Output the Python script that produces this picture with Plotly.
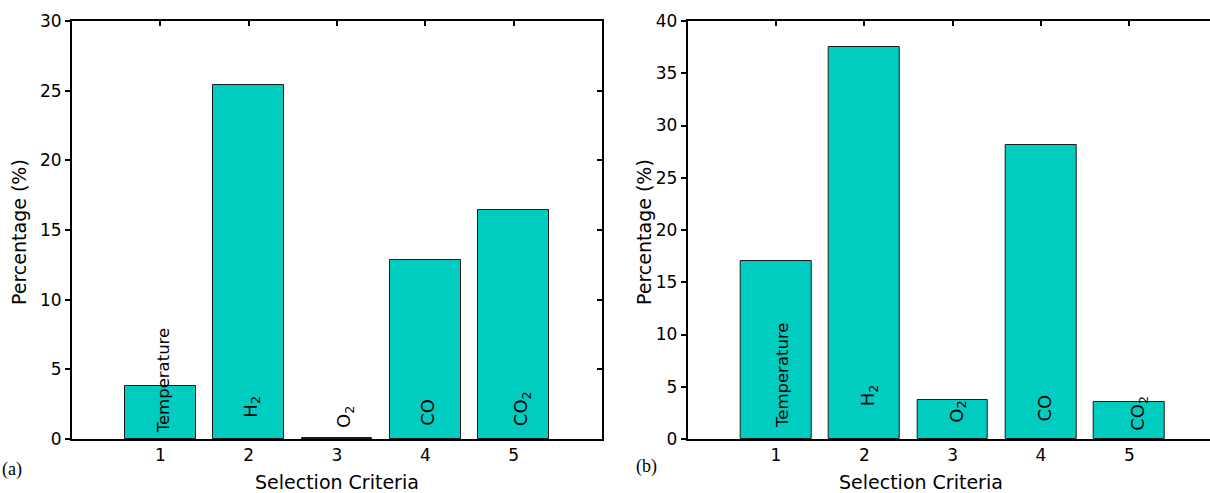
import plotly.graph_objects as go

# Selection criteria shared by both panels
categories = [1, 2, 3, 4, 5]
criteria_labels = ["Temperature", "H<sub>2</sub>", "O<sub>2</sub>", "CO", "CO<sub>2</sub>"]

# Percentage of selections per criterion
pct_a = [3.82, 25.42, 0.08, 12.86, 16.40]
pct_b = [17.0, 37.5, 3.78, 28.1, 3.52]

yticks_a = [0, 5, 10, 15, 20, 25, 30]
yticks_b = [0, 5, 10, 15, 20, 25, 30, 35, 40]

# In-bar label offsets (pixels): horizontal shift from bar centre, height above baseline
label_dx_a = [3, 3, 8, 2, 8]
label_dy_a = [4, 19, 9, 11, 11]
label_dx_b = [6, 5, 5, 3, 9]
label_dy_b = [9, 31, 14, 15, 6]
label_size = [16.5, 18, 18, 18, 18]

W, H = 1210, 493
M_T, M_B = 21, 54
PLOT_H = H - M_T - M_B

BAR_COLOR = "#00CCC0"
EDGE_COLOR = "#1a1a1a"
FONT = "DejaVu Sans"


def px_x(p):
    return p / W


def px_y(p):
    return (H - M_B - p) / PLOT_H


fig = go.Figure()

fig.add_trace(go.Bar(x=categories, y=pct_a, width=0.8, xaxis="x", yaxis="y",
                     marker=dict(color=BAR_COLOR, line=dict(color=EDGE_COLOR, width=1)),
                     showlegend=False, hoverinfo="x+y"))
fig.add_trace(go.Bar(x=categories, y=pct_b, width=0.8, xaxis="x2", yaxis="y2",
                     marker=dict(color=BAR_COLOR, line=dict(color=EDGE_COLOR, width=1)),
                     showlegend=False, hoverinfo="x+y"))

dom_a = [px_x(72), px_x(602)]
dom_b = [px_x(687.7), 1.0]
xr_a = [0, 6]
xr_b = [0, (W - 687.7) / ((602 - 72) / 6)]

tickfont = dict(family=FONT, size=17, color="black")
line_kw = dict(showline=True, linecolor="black", linewidth=2, zeroline=False,
               showgrid=False)

fig.update_layout(
    width=W, height=H,
    margin=dict(l=0, r=0, t=M_T, b=M_B),
    paper_bgcolor="white", plot_bgcolor="white",
    bargap=0,
    xaxis=dict(domain=dom_a, range=xr_a, anchor="y", tickvals=categories,
               ticks="", mirror=True, tickfont=tickfont, fixedrange=True, **line_kw),
    xaxis3=dict(overlaying="x", side="top", anchor="y", range=xr_a, tickvals=categories,
                ticks="inside", ticklen=5, tickwidth=1.5, tickcolor="black",
                showticklabels=False, showline=False, showgrid=False, zeroline=False),
    yaxis=dict(domain=[0, 1], range=[0, 30], anchor="x", tickvals=yticks_a,
               ticks="outside", ticklen=5, tickwidth=1.5, tickcolor="black",
               mirror=True, tickfont=tickfont, **line_kw),
    yaxis3=dict(overlaying="y", side="right", anchor="x", range=[0, 30], tickvals=yticks_a,
                ticks="inside", ticklen=5, tickwidth=1.5, tickcolor="black",
                showticklabels=False, showline=False, showgrid=False, zeroline=False),
    xaxis2=dict(domain=dom_b, range=xr_b, anchor="y2", tickvals=categories,
                ticks="", mirror=True, tickfont=tickfont, **line_kw),
    xaxis4=dict(overlaying="x2", side="top", anchor="y2", range=xr_b, tickvals=categories,
                ticks="inside", ticklen=5, tickwidth=1.5, tickcolor="black",
                showticklabels=False, showline=False, showgrid=False, zeroline=False),
    yaxis2=dict(domain=[0, 1], range=[0, 40], anchor="x2", tickvals=yticks_b,
                ticks="outside", ticklen=5, tickwidth=1.5, tickcolor="black",
                mirror=False, tickfont=tickfont, **line_kw),
)

# Invisible traces so the overlay tick axes are rendered
fig.add_trace(go.Scatter(x=[None], y=[None], xaxis="x3", yaxis="y3", showlegend=False))
fig.add_trace(go.Scatter(x=[None], y=[None], xaxis="x4", yaxis="y2", showlegend=False))

annotations = []
for xref, yref, dxs, dys in (("x", "y", label_dx_a, label_dy_a),
                             ("x2", "y2", label_dx_b, label_dy_b)):
    for c, txt, dx, dy, fs in zip(categories, criteria_labels, dxs, dys, label_size):
        annotations.append(dict(x=c, y=0, xref=xref, yref=yref, text=txt,
                                textangle=-90, showarrow=False,
                                font=dict(family=FONT, size=fs, color="black"),
                                xanchor="center", yanchor="bottom",
                                xshift=dx, yshift=dy))

title_font = dict(family=FONT, size=19, color="black")
for cx in (19.5, 644.5):
    annotations.append(dict(x=px_x(cx), y=px_y(232.5), xref="paper", yref="paper",
                            text="Percentage (%)", textangle=-90, showarrow=False,
                            font=title_font, xanchor="center", yanchor="middle"))
for cx in (337, 921):
    annotations.append(dict(x=px_x(cx), y=px_y(482), xref="paper", yref="paper",
                            text="Selection Criteria", showarrow=False,
                            font=title_font, xanchor="center", yanchor="middle"))

panel_font = dict(family="Liberation Serif", size=18, color="black")
for cx, cy, tag in ((12, 470, "(a)"), (647, 467, "(b)")):
    annotations.append(dict(x=px_x(cx), y=px_y(cy), xref="paper", yref="paper",
                            text=tag, showarrow=False, font=panel_font,
                            xanchor="center", yanchor="middle"))

fig.update_layout(annotations=annotations)

fig.write_html("out.html")
